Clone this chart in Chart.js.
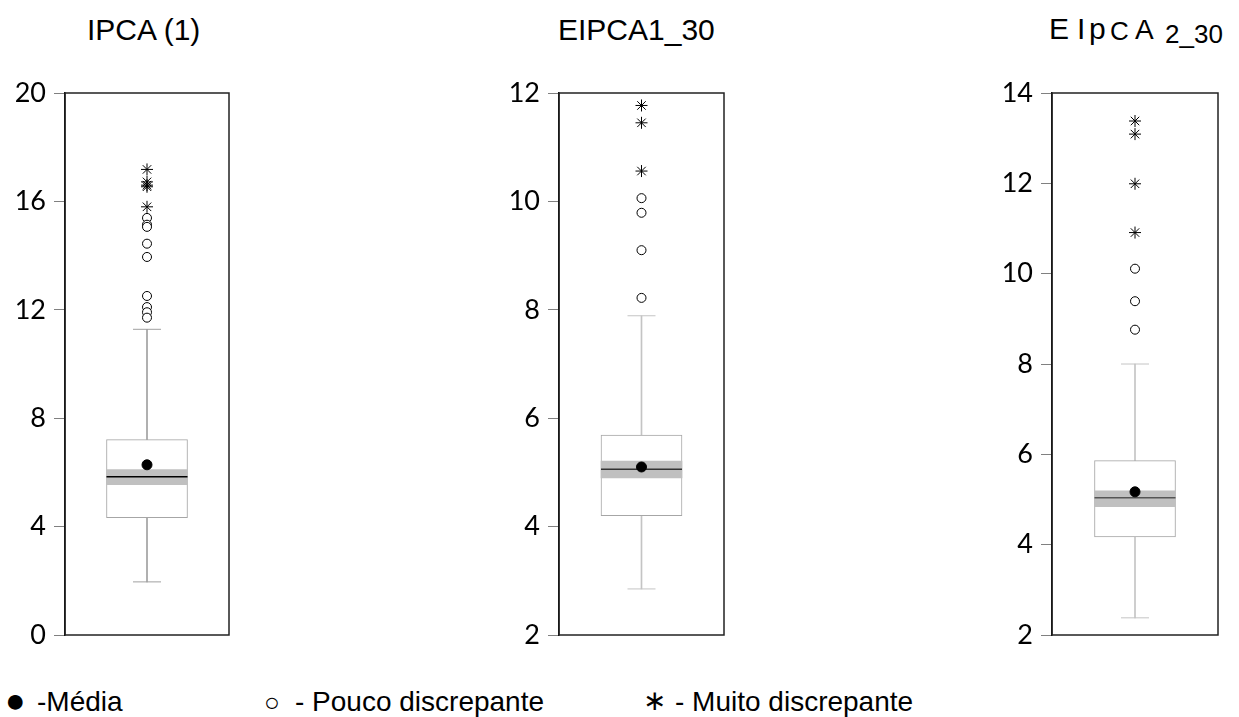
<!DOCTYPE html>
<html>
<head>
<meta charset="utf-8">
<script src="https://cdn.jsdelivr.net/npm/chart.js@4.4.1/dist/chart.umd.min.js"></script>
<style>
    body { margin: 0; background: #fff; width: 1239px; height: 717px; overflow: hidden; position: relative; font-family: 'Liberation Sans', Arial, sans-serif; }
    .panel { position: absolute; top: 60px; height: 600px; }
    .t { position: absolute; line-height: 1; white-space: nowrap; color: #000; }
</style>
</head>
<body>
<div class="t" style="left:87px;top:15px;font-size:30px">IPCA (1)</div>
<div class="t" style="left:558px;top:15px;font-size:30px">EIPCA1_30</div>
<div class="t" style="left:1049px;top:14px;font-size:30px">E</div>
<div class="t" style="left:1077px;top:14px;font-size:30px">I</div>
<div class="t" style="left:1089px;top:14px;font-size:30px">p</div>
<div class="t" style="left:1110px;top:18px;font-size:26px">C</div>
<div class="t" style="left:1135px;top:16px;font-size:28px">A</div>
<div class="t" style="left:1165px;top:21px;font-size:26px">2_30</div>

<div class="panel" style="left:0;width:245px"><canvas id="c0"></canvas></div>
<div class="panel" style="left:480px;width:260px"><canvas id="c1"></canvas></div>
<div class="panel" style="left:975px;width:260px"><canvas id="c2"></canvas></div>

<div class="t" style="left:5px;top:683px;font-size:34px">●</div>
<div class="t" style="left:37px;top:688px;font-size:28px">-Média</div>
<div class="t" style="left:264px;top:689px;font-size:26px">○</div>
<div class="t" style="left:295px;top:688px;font-size:28px">- Pouco discrepante</div>
<div class="t" style="left:643px;top:687px;font-size:28px">∗</div>
<div class="t" style="left:675px;top:688px;font-size:28px">- Muito discrepante</div>

<script>
// Box plot values (one entry per panel)
const yMin = [0, 2, 2];
const yMax = [20, 12, 14];
const yStep = [4, 2, 2];
const whiskLow = [1.96, 2.85, 2.38];
const q1 = [4.33, 4.20, 4.17];
const bandLow = [5.55, 4.90, 4.84];
const median = [5.84, 5.06, 5.04];
const bandHigh = [6.10, 5.21, 5.19];
const q3 = [7.21, 5.69, 5.86];
const whiskHigh = [11.28, 7.89, 8.00];
const mean = [6.28, 5.10, 5.17];
const mildOutliers = [
    [15.39, 15.14, 15.06, 14.44, 13.95, 12.51, 12.10, 11.91, 11.71],
    [10.06, 9.79, 9.10, 8.22],
    [10.11, 9.39, 8.76]
];
const extremeOutliers = [
    [17.18, 16.72, 16.60, 16.54, 15.80],
    [11.77, 11.45, 10.56],
    [13.38, 13.09, 11.99, 10.91]
];

// layout per panel
const axisWidth = [65, 79, 77];
const padRight = [16, 16, 17];
const whiskColor = ['#a0a0a0', '#c4c4c4', '#c4c4c4'];
const medianColor = ['#000', '#333', '#555'];

// black frame round the plot area
const framePlugin = {
    id: 'frame',
    afterDatasetsDraw(chart) {
        const a = chart.chartArea, ctx = chart.ctx;
        ctx.save();
        ctx.strokeStyle = '#222';
        ctx.lineWidth = 1.5;
        ctx.strokeRect(a.left, a.top, a.right - a.left, a.bottom - a.top);
        ctx.restore();
    }
};

function makePanel(i) {
    const pts = arr => arr.map(v => ({ x: 0, y: v }));
    new Chart(document.getElementById('c' + i), {
        type: 'bar',
        data: {
            datasets: [
                { type: 'scatter', data: pts(mildOutliers[i]), pointStyle: 'circle', pointRadius: 4.5,
                  pointBackgroundColor: '#fff', pointBorderColor: '#000', pointBorderWidth: 1, order: 0 },
                { type: 'scatter', data: pts(extremeOutliers[i]), pointStyle: 'star', pointRadius: 6,
                  pointBorderColor: '#000', pointBorderWidth: 1, order: 0 },
                { type: 'scatter', data: pts([mean[i]]), pointStyle: 'circle', pointRadius: 5,
                  pointBackgroundColor: '#000', pointBorderColor: '#000', pointBorderWidth: 1, order: 0 },
                { type: 'scatter', data: pts([median[i]]), pointStyle: 'line', pointRadius: 40.5,
                  pointBorderColor: medianColor[i], pointBorderWidth: 1.5, order: 1 },
                { type: 'scatter', data: pts([whiskLow[i], whiskHigh[i]]), pointStyle: 'line', pointRadius: 14,
                  pointBorderColor: whiskColor[i], pointBorderWidth: 1, order: 1 },
                { type: 'bar', data: [{ x: 0, y: [bandLow[i], bandHigh[i]] }], backgroundColor: '#c0c0c0',
                  borderWidth: 0, barThickness: 81, order: 2 },
                { type: 'bar', data: [{ x: 0, y: [q1[i], q3[i]] }], backgroundColor: '#fff', borderColor: '#a6a6a6',
                  borderWidth: 1, borderSkipped: false, barThickness: 81, order: 3 },
                { type: 'bar', data: [{ x: 0, y: [whiskLow[i], whiskHigh[i]] }], backgroundColor: whiskColor[i],
                  borderWidth: 0, barThickness: 1, order: 4 }
            ]
        },
        options: {
            responsive: true,
            maintainAspectRatio: false,
            animation: false,
            events: [],
            datasets: { bar: { grouped: false } },
            layout: { autoPadding: false, padding: { top: 33, bottom: 25, left: 0, right: padRight[i] } },
            scales: {
                x: { type: 'linear', min: -1, max: 1, offset: false, display: false },
                y: {
                    min: yMin[i], max: yMax[i],
                    afterFit(scale) { scale.width = axisWidth[i]; },
                    ticks: { stepSize: yStep[i], autoSkip: false, color: '#000', padding: 8,
                             font: { family: 'Lato', size: 27 } },
                    grid: { drawOnChartArea: false, drawTicks: true, tickLength: 11, color: '#808080', lineWidth: 1 },
                    border: { display: true, color: '#000', width: 1.5 }
                }
            },
            plugins: { legend: { display: false }, tooltip: { enabled: false }, title: { display: false } }
        },
        plugins: [framePlugin]
    });
}

[0, 1, 2].forEach(makePanel);
</script>
</body>
</html>
